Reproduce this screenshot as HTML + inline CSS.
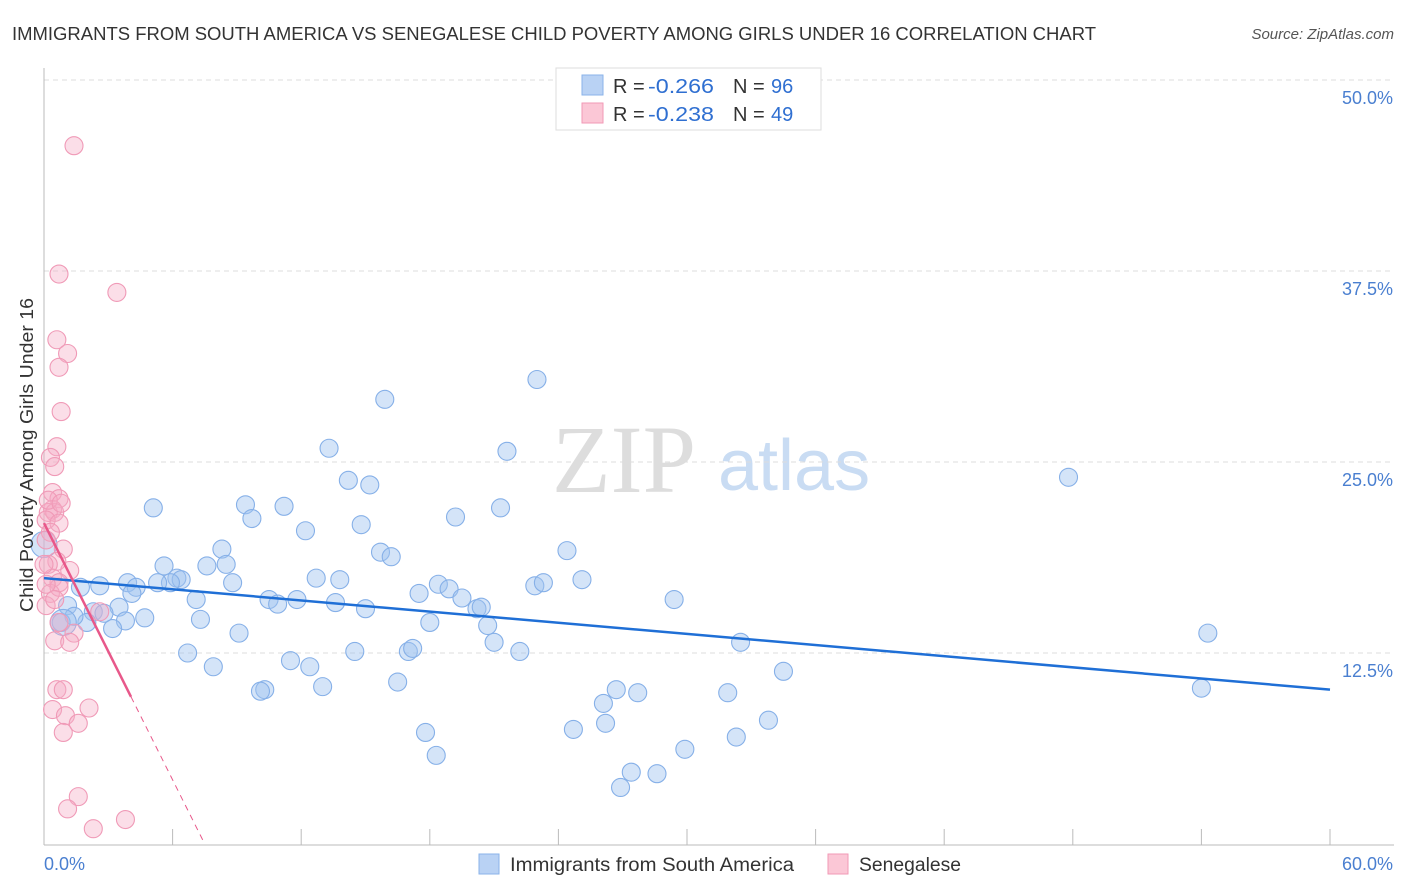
<!DOCTYPE html>
<html><head><meta charset="utf-8">
<style>
body{margin:0;background:#fff;font-family:"Liberation Sans",sans-serif;}
svg{display:block}
</style></head>
<body>
<svg id="chart" width="1406" height="892" viewBox="0 0 1406 892">
<text x="12" y="40" font-size="18" fill="#333" textLength="1084" lengthAdjust="spacingAndGlyphs">IMMIGRANTS FROM SOUTH AMERICA VS SENEGALESE CHILD POVERTY AMONG GIRLS UNDER 16 CORRELATION CHART</text>
<text x="1394" y="39" font-size="15" fill="#555" font-style="italic" text-anchor="end">Source: ZipAtlas.com</text>
<g>
<text x="552" y="492" font-size="96" font-family="Liberation Serif,serif" fill="#ddd">ZIP</text>
<text x="718" y="490" font-size="72" fill="#c9dcf3">atlas</text>
</g>
<g id="grid"></g>
<g id="axes"></g>
<g id="pts"></g>
<g id="trend"></g>
<text transform="translate(33,455) rotate(-90)" font-size="18" fill="#333" text-anchor="middle" textLength="314" lengthAdjust="spacingAndGlyphs">Child Poverty Among Girls Under 16</text>
<text x="44" y="870" font-size="18" fill="#4a7fd0">0.0%</text>
<text x="1393" y="870" font-size="18" fill="#4a7fd0" text-anchor="end">60.0%</text>
<g>
<rect x="556" y="68" width="265" height="62" fill="#fff" stroke="#ddd"/>
<rect x="582" y="75" width="21" height="20" fill="#b9d2f4" stroke="#8ab3ea"/>
<rect x="582" y="103" width="21" height="20" fill="#fbc7d6" stroke="#f199b6"/>
<text x="613" y="93" font-size="20" fill="#333">R = <tspan x="648" fill="#2f6fd1" textLength="66" lengthAdjust="spacingAndGlyphs">-0.266</tspan><tspan x="733">N = </tspan><tspan x="771" fill="#2f6fd1">96</tspan></text>
<text x="613" y="121" font-size="20" fill="#333">R = <tspan x="648" fill="#2f6fd1" textLength="66" lengthAdjust="spacingAndGlyphs">-0.238</tspan><tspan x="733">N = </tspan><tspan x="771" fill="#2f6fd1">49</tspan></text>
</g>
<g>
<rect x="479" y="854" width="20" height="20" fill="#b9d2f4" stroke="#8ab3ea"/>
<text x="510" y="871" font-size="19" fill="#333" textLength="284" lengthAdjust="spacingAndGlyphs">Immigrants from South America</text>
<rect x="828" y="854" width="20" height="20" fill="#fbc7d6" stroke="#f199b6"/>
<text x="859" y="871" font-size="19" fill="#333" textLength="102" lengthAdjust="spacingAndGlyphs">Senegalese</text>
</g>
</svg>
<script>
const yTicks=[12.5,25.0,37.5,50.0];
const xTicks=[0,6,12,18,24,30,36,42,48,54,60];
const blueX=[23.0,15.9,13.3,21.6,47.8,14.2,15.2,5.1,9.4,11.2,9.7,21.3,19.2,14.8,12.2,24.4,8.3,15.7,16.2,5.6,7.6,8.5,6.2,6.4,5.9,5.3,3.9,1.7,2.6,4.3,8.8,12.7,13.8,18.4,18.9,25.1,22.9,23.3,17.5,19.5,29.4,4.1,7.1,10.5,10.9,11.8,13.6,15.0,20.2,20.4,1.1,2.3,3.5,2.8,4.7,3.8,3.2,2.0,1.4,0.8,7.3,18.0,20.7,9.1,21.0,32.5,54.3,6.7,17.0,17.2,14.5,22.2,11.5,12.4,7.9,34.5,16.5,13.0,10.3,10.1,26.7,27.7,31.9,54.0,26.1,26.2,33.8,17.8,24.7,32.3,29.9,18.3,27.4,28.6,26.9,0.0,0.9];
const blueY=[30.4,29.1,25.9,25.7,24.0,23.8,23.5,22.0,22.2,22.1,21.3,22.0,21.4,20.9,20.5,19.2,19.3,19.1,18.8,18.2,18.2,18.3,17.4,17.3,17.1,17.1,17.1,16.8,16.9,16.8,17.1,17.4,17.3,17.0,16.7,17.3,16.9,17.1,16.4,16.1,16.0,16.4,16.0,16.0,15.7,16.0,15.8,15.4,15.4,15.5,15.6,15.2,15.5,15.1,14.8,14.6,14.1,14.5,14.9,14.5,14.7,14.5,14.3,13.8,13.2,13.2,13.8,12.5,12.6,12.8,12.6,12.6,12.0,11.6,11.6,11.3,10.6,10.3,10.1,10.0,10.1,9.9,9.9,10.2,9.2,7.9,8.1,7.3,7.5,7.0,6.2,5.8,4.7,4.6,3.7,19.6,14.5];
const blueBig=[95,96];
const pinkX=[1.4,0.7,3.4,0.6,1.1,0.7,0.8,0.6,0.3,0.5,0.4,0.7,0.4,0.2,0.5,0.1,0.7,0.3,0.9,0.6,0.2,1.2,0.4,0.7,0.3,0.7,0.1,0.7,1.4,0.5,1.2,0.6,0.9,0.4,1.0,2.1,1.6,0.9,1.6,1.1,2.3,3.8,0.1,0.1,0.2,0.8,0.5,2.6,0.0];
const pinkY=[45.7,37.3,36.1,33.0,32.1,31.2,28.3,26.0,25.3,24.7,23.0,22.6,21.9,21.7,21.7,21.2,21.0,20.4,19.3,18.5,18.3,17.9,17.4,17.1,16.4,16.8,15.6,14.5,13.8,13.3,13.2,10.1,10.1,8.8,8.4,8.9,7.9,7.3,3.1,2.3,1.0,1.6,17.0,19.9,22.5,22.3,16.0,15.2,18.3];
const blueTrend=[17.4,10.1];
const pinkTrend=[21.0,-2.8];
const pinkSolidEnd=4.06;

const X=v=>44+v*(1286/60);
const Y=v=>844-v*15.28;
const NS='http://www.w3.org/2000/svg';
function mk(tag,attrs,parent){const e=document.createElementNS(NS,tag);for(const k in attrs)e.setAttribute(k,attrs[k]);parent.appendChild(e);return e;}
const grid=document.getElementById('grid'),axes=document.getElementById('axes'),pts=document.getElementById('pts'),tr=document.getElementById('trend');
yTicks.forEach(t=>{
  const l=mk('line',{x1:44,x2:1394,y1:Y(t),y2:Y(t),stroke:'#ddd','stroke-dasharray':'5,4'},grid);
  
  
  const tx=mk('text',{x:1393,y:Y(t)+24,'font-size':18,fill:'#4a7fd0','text-anchor':'end'},grid);
  tx.textContent=t.toFixed(1)+'%';
  
  
});
const topG=mk('line',{x1:44,x2:1394,y1:80,y2:80,stroke:'#ddd','stroke-dasharray':'5,4'},grid);


const ya=mk('line',{x1:44,x2:44,y1:68,y2:845,stroke:'#bbb'},axes);


const xa=mk('line',{x1:44,x2:1394,y1:845,y2:845,stroke:'#bbb'},axes);


xTicks.forEach(t=>{
  const l=mk('line',{x1:X(t),x2:X(t),y1:829,y2:845,stroke:'#bbb'},axes);
  
  
});
blueX.forEach((v,i)=>{
  const big=blueBig.includes(i);
  const c=mk('circle',{cx:X(v),cy:Y(blueY[i]),r:big?13:9,fill:'rgba(160,196,240,0.45)',stroke:'#86b0e8','stroke-width':1.1},pts);
  
  
});
pinkX.forEach((v,i)=>{
  const c=mk('circle',{cx:X(v),cy:Y(pinkY[i]),r:9,fill:'rgba(246,172,198,0.4)',stroke:'#f09ab7','stroke-width':1.1},pts);
  
  
});
const bt=mk('line',{x1:X(0),y1:Y(blueTrend[0]),x2:X(60),y2:Y(blueTrend[1]),stroke:'#1f6fd6','stroke-width':2.5},tr);


const pf=x=>pinkTrend[0]+pinkTrend[1]*x;
const ps=mk('line',{x1:X(0),y1:Y(pf(0)),x2:X(pinkSolidEnd),y2:Y(pf(pinkSolidEnd)),stroke:'#e8588a','stroke-width':2.5},tr);


const xz=-pinkTrend[0]/pinkTrend[1];
const pd=mk('line',{x1:X(pinkSolidEnd),y1:Y(pf(pinkSolidEnd)),x2:X(xz),y2:Y(0),stroke:'#e8588a','stroke-width':1,'stroke-dasharray':'6,5'},tr);


</script>
</body></html>
